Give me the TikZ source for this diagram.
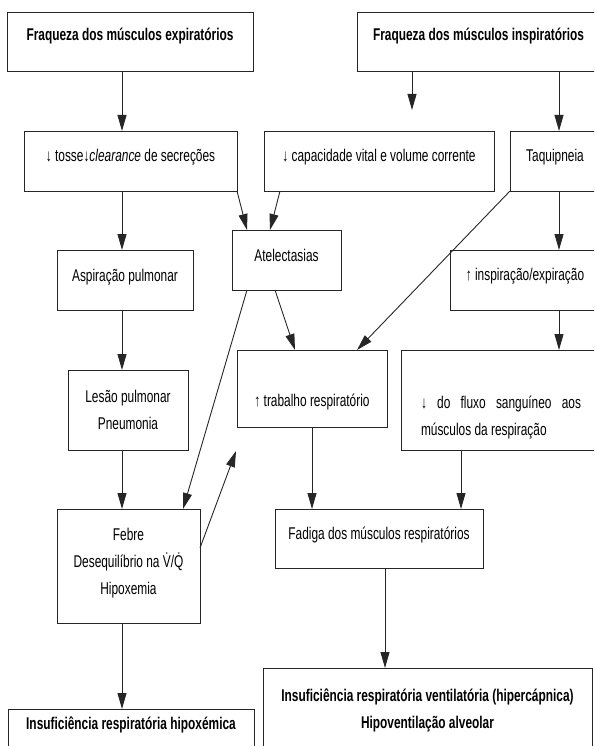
\documentclass[tikz,border=0pt]{standalone}
\usepackage{fontspec}
\setmainfont{Liberation Sans}[FakeStretch=0.70]
\usetikzlibrary{arrows.meta}

\tikzset{
  box/.style={draw=black!85, line width=0.9pt, rectangle, anchor=north west,
    inner sep=0pt, outer sep=0pt, align=center,
    font=\fontsize{17}{27}\selectfont},
  title/.style={box, font=\fontsize{17}{27}\selectfont\bfseries},
  arr/.style={draw=black!85, line width=0.9pt, -{Triangle[length=16pt,width=9pt]}}
}

\begin{document}
\begin{tikzpicture}[x=1pt,y=-1pt]
\useasboundingbox (0,0) rectangle (594,746);
\clip (0,0) rectangle (594,746);

% columns for the straight arrows
\coordinate (colL) at (122,0);
\coordinate (colR) at (559,0);
\coordinate (colF) at (461,0);
\coordinate (colV) at (385,0);

% top row
\node[title, minimum width=246pt, text height=29pt, text depth=30pt] (expir) at (7,12) {Fraqueza dos músculos expiratórios};
\node[title, minimum width=243pt, text height=29pt, text depth=30pt] (inspir) at (357,12) {Fraqueza dos músculos inspiratórios};

\node[box, minimum width=213pt, text height=30pt, text depth=30pt] (tosse) at (24,131) {↓ tosse↓\textit{clearance} de secreções};
\node[box, minimum width=230pt, text height=30pt, text depth=30pt] (capac) at (264,131) {↓ capacidade vital e volume corrente};
\node[box, minimum width=90pt, text height=31pt, text depth=29pt] (taqui) at (510,131) {Taquipneia};

\node[box, minimum width=109pt, text height=31pt, text depth=29pt] (atel) at (232,230) {Atelectasias};
\node[box, minimum width=136pt, text height=31pt, text depth=29pt] (aspir) at (57,250) {Aspiração pulmonar};
\node[box, minimum width=150pt, text height=30pt, text depth=30pt] (inspexp) at (450,250) {↑ inspiração/expiração};

\node[box, minimum width=120pt, text height=59pt, text depth=21pt] (lesao) at (68,370) {Lesão pulmonar\\Pneumonia};
\node[box, minimum width=150pt, text height=56pt, text depth=21pt] (trab) at (237,350) {↑ trabalho respiratório};
\node[box, minimum width=200pt, text width=160pt, align=justify, text height=58pt, text depth=42pt] (fluxo) at (401,350) {↓ do fluxo sanguíneo aos\linebreak músculos da respiração};

\node[box, minimum width=143pt, text height=85pt, text depth=29pt] (febre) at (57,509) {Febre\\Desequilíbrio na \.{V}/\.{Q}\\Hipoxemia};
\node[box, minimum width=208pt, text height=30pt, text depth=29pt] (fadiga) at (275,509) {Fadiga dos músculos respiratórios};

% bottom row
\node[title, minimum width=246pt, text height=20pt, text depth=40pt] (hipox) at (8,709) {Insuficiência respiratória hipoxémica};
\node[title, minimum width=329pt, text height=60pt, text depth=40pt] (venti) at (263,668) {Insuficiência respiratória ventilatória (hipercápnica)\\Hipoventilação alveolar};

% free ends
\coordinate (inspEnd) at (412,110);
\coordinate (febreEnd) at (236,451);

% left column
\draw[arr] (expir.south -| colL) -- (tosse.north -| colL);
\draw[arr] (tosse.south -| colL) -- (aspir.north -| colL);
\draw[arr] (aspir.south -| colL) -- (lesao.north -| colL);
\draw[arr] (lesao.south -| colL) -- (febre.north -| colL);
\draw[arr] (febre.south -| colL) -- (hipox.north -| colL);

% right column
\draw[arr] (inspir.south -| inspEnd) -- (inspEnd);
\draw[arr] (inspir.south -| colR) -- (taqui.north -| colR);
\draw[arr] (taqui.south -| colR) -- (inspexp.north -| colR);
\draw[arr] (inspexp.south -| colR) -- (fluxo.north -| colR);

% middle
\draw[arr] (tosse.south east) -- ([xshift=15pt]atel.north west);
\draw[arr] ([xshift=16pt]capac.south west) -- ([xshift=38pt]atel.north west);
\draw[arr] ([xshift=43pt]atel.south west) -- ([xshift=58pt]trab.north west);
\draw[arr] ([xshift=15pt]atel.south west) -- ([xshift=-17pt]febre.north east);
\draw[arr] (taqui.south west) -- ([xshift=-30pt]trab.north east);
\draw[arr] ([yshift=18pt]febre.east) -- (febreEnd);

\draw[arr] (trab.south) -- (trab.south |- fadiga.north);
\draw[arr] (fluxo.south -| colF) -- (fadiga.north -| colF);
\draw[arr] (fadiga.south -| colV) -- (venti.north -| colV);

\end{tikzpicture}
\end{document}
